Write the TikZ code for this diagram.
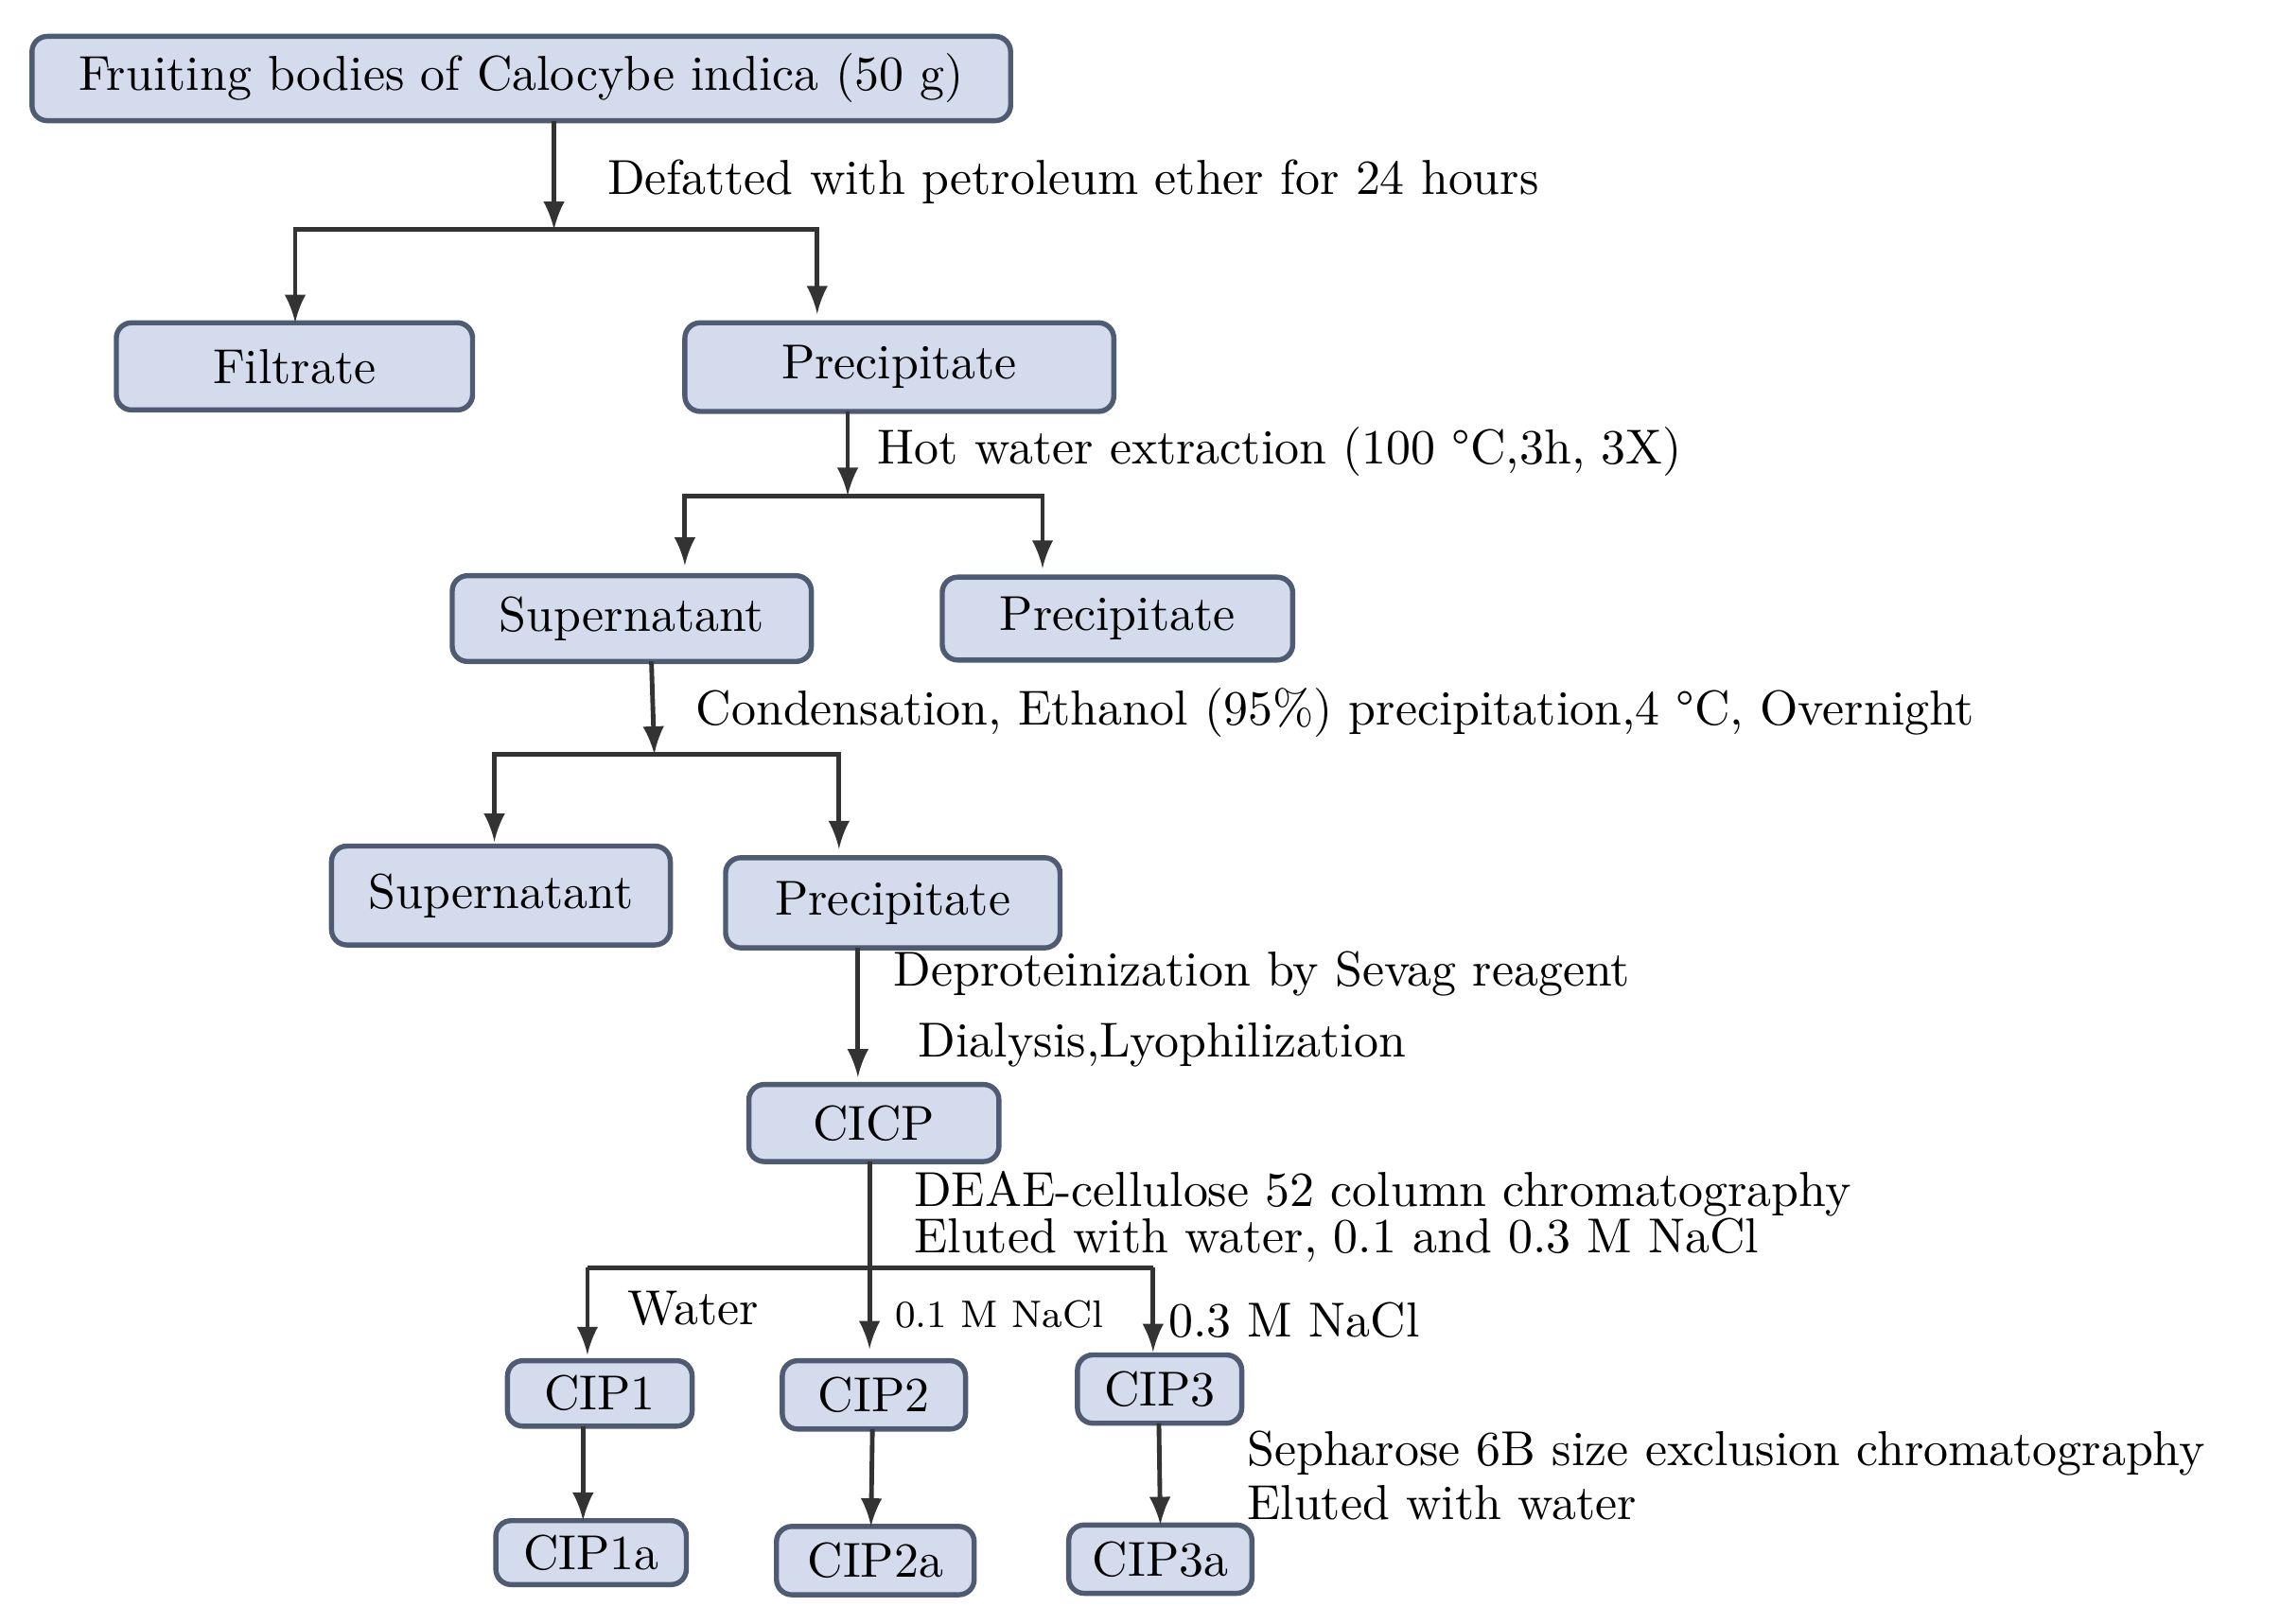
\documentclass[tikz,border=0pt]{standalone}
\definecolor{bd}{HTML}{4F5B73}
\definecolor{bf}{HTML}{D3DBEC}
\begin{document}
\begin{tikzpicture}[x=0.01cm,y=-0.01cm,
 box/.style={draw=bd,line width=1pt,fill=bf,rounded corners=3pt},
 bt/.style={font=\fontsize{9.6}{11}\selectfont},
 lb/.style={anchor=west,font=\fontsize{9.6}{11}\selectfont,inner sep=0pt},
 ar/.style={-latex,line width=0.9pt,black!80},
 ln/.style={line width=0.9pt,black!80}]
\useasboundingbox (0,0) rectangle (1568,1117);
\newcommand\bx[6]{\draw[box] (#2,#3) rectangle (#4,#5); \node[bt] (#1) at ({(#2+#4)/2},{(#3+#5)/2}) {#6};}
\bx{top}{22}{25}{695}{83}{Fruiting bodies of Calocybe indica (50 g)}
\bx{fil}{80}{222}{325}{282}{Filtrate}
\bx{pa}{471}{222}{766}{283}{Precipitate}
\bx{sa}{311}{396}{558}{455}{Supernatant}
\bx{pb}{648}{397}{889}{454}{Precipitate}
\bx{sb}{228}{582}{461}{650}{Supernatant}
\bx{pc}{499}{590}{729}{652}{Precipitate}
\bx{cicp}{515}{746}{687}{799}{CICP}
\bx{c1}{349}{936}{476}{981}{CIP1}
\bx{c2}{538}{936}{664}{983}{CIP2}
\bx{c3}{741}{932}{854}{979}{CIP3}
\bx{c1a}{341}{1046}{472}{1090}{CIP1a}
\bx{c2a}{534}{1050}{670}{1097}{CIP2a}
\bx{c3a}{735}{1049}{861}{1096}{CIP3a}
% connectors
\coordinate (j1) at (381,158);
\draw[ar] (381,83) -- (j1);
\draw[ar] (j1) -| (203,222);
\draw[ar] (j1) -| (562,216);
\coordinate (j2) at (583,341);
\draw[ar] (583,283) -- (j2);
\draw[ar] (j2) -| (471,389);
\draw[ar] (j2) -| (717,391);
\coordinate (j3) at (450,519);
\draw[ar] (448,455) -- (j3);
\draw[ar] (j3) -| (340,579);
\draw[ar] (j3) -| (577,584);
\draw[ar] (590,652) -- (590,741);
\draw[ar] (598,799) -- (598,928);
\draw[ln] (404,872) -- (793,872);
\draw[ar] (404,872) -- (404,932);
\draw[ar] (793,872) -- (793,930);
\draw[ar] (401,981) -- (401,1046);
\draw[ar] (600,983) -- (599,1050);
\draw[ar] (797,979) -- (798,1049);
% labels
\node[lb] at (417,125) {Defatted with petroleum ether for 24 hours};
\node[lb] at (603,311) {Hot water extraction (100 °C,3h, 3X)};
\node[lb] at (478,490) {Condensation, Ethanol (95\%) precipitation,4 °C, Overnight};
\node[lb] at (614,670) {Deproteinization by Sevag reagent};
\node[lb] at (631,719) {Dialysis,Lyophilization};
\node[lb] at (628,821) {DEAE-cellulose 52 column chromatography};
\node[lb] at (628,853) {Eluted with water, 0.1 and 0.3 M NaCl};
\node[lb] at (431,900) {Water};
\node[lb,font=\fontsize{7.5}{9}\selectfont] at (615,904) {0.1 M NaCl};
\node[lb] at (803,908) {0.3 M NaCl};
\node[lb] at (857,1000) {Sepharose 6B size exclusion chromatography};
\node[lb] at (857,1034) {Eluted with water};
\end{tikzpicture}
\end{document}
